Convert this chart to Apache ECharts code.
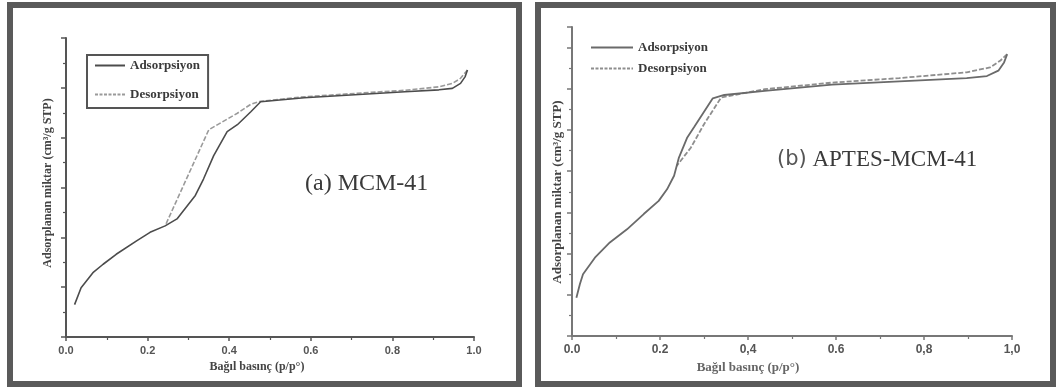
<!DOCTYPE html>
<html>
<head>
<meta charset="utf-8">
<script src="https://cdn.jsdelivr.net/npm/echarts@6/dist/echarts.min.js"></script>
<style>
  html, body { margin: 0; padding: 0; background: #fff; }
  body { width: 1056px; height: 387px; position: relative; overflow: hidden; }
  .frame { position: absolute; box-sizing: border-box; border: 6px solid #5a5a5a; background: #fff; }
  .chart { width: 100%; height: 100%; }
</style>
</head>
<body>
<div class="frame" style="left:7px;top:2px;width:515px;height:385px"><div id="chartA" class="chart"></div></div>
<div class="frame" style="left:535px;top:2px;width:521px;height:385px"><div id="chartB" class="chart"></div></div>
<script>
// Pressure tick labels (p/p°)
const pressureTicksA = ['0.0', '0.2', '0.4', '0.6', '0.8', '1.0'];
const pressureTicksB = ['0.0', '0.2', '0,4', '0.6', '0,8', '1,0'];

// (a) MCM-41 — adsorption branch
const mcmAdsP = [0.021, 0.037, 0.066, 0.091, 0.123, 0.173, 0.206, 0.243, 0.272, 0.317, 0.337, 0.362, 0.395, 0.420, 0.453, 0.477, 0.584, 0.749, 0.831, 0.914, 0.947, 0.967, 0.978, 0.984];
const mcmAdsV = [0.65, 0.99, 1.29, 1.46, 1.66, 1.93, 2.10, 2.23, 2.37, 2.84, 3.17, 3.64, 4.12, 4.26, 4.52, 4.72, 4.80, 4.88, 4.92, 4.96, 4.99, 5.09, 5.22, 5.36];
// (a) MCM-41 — desorption branch
const mcmDesP = [0.984, 0.967, 0.947, 0.914, 0.831, 0.749, 0.584, 0.477, 0.453, 0.420, 0.350, 0.243];
const mcmDesV = [5.36, 5.19, 5.09, 5.02, 4.95, 4.91, 4.82, 4.73, 4.67, 4.49, 4.16, 2.23];

// (b) APTES-MCM-41 — adsorption branch
const aptesAdsP = [0.010, 0.018, 0.025, 0.052, 0.086, 0.125, 0.163, 0.197, 0.216, 0.232, 0.243, 0.262, 0.278, 0.320, 0.346, 0.438, 0.591, 0.744, 0.897, 0.943, 0.969, 0.982, 0.989];
const aptesAdsV = [0.93, 1.26, 1.50, 1.90, 2.27, 2.59, 2.96, 3.28, 3.56, 3.89, 4.33, 4.82, 5.08, 5.77, 5.85, 5.95, 6.10, 6.18, 6.26, 6.31, 6.44, 6.64, 6.84];
// (b) APTES-MCM-41 — desorption branch
const aptesDesP = [0.989, 0.973, 0.950, 0.897, 0.744, 0.591, 0.438, 0.339, 0.300, 0.270, 0.238];
const aptesDesV = [6.84, 6.68, 6.52, 6.40, 6.26, 6.15, 5.99, 5.79, 5.14, 4.57, 4.13];

const seriesNames = ['Adsorpsiyon', 'Desorpsiyon'];
const yAxisTitle = 'Adsorplanan miktar (cm³/g STP)';
const xAxisTitle = 'Bağıl basınç (p/p°)';

const SERIF = '"Liberation Serif", "DejaVu Serif", serif';
const SANS = '"Liberation Sans", Arial, sans-serif';

function pairs(xs, ys) { return xs.map((x, i) => [x, ys[i]]); }

function solidIcon(w, h) { return 'path://M0,0H' + w + 'V' + h + 'H0Z'; }
function dashIcon(w, h, dash, gap) {
  let d = '';
  for (let x = 0; x < w; x += dash + gap) {
    const e = Math.min(w, x + dash);
    d += 'M' + x + ',0H' + e + 'V' + h + 'H' + x + 'Z';
  }
  return 'path://' + d;
}

function buildOption(p) {
  return {
    animation: false,
    grid: { left: p.grid[0], top: p.grid[1], width: p.grid[2], height: p.grid[3] },
    xAxis: {
      type: 'value', min: 0, max: 1, interval: 0.2,
      axisLine: { lineStyle: { color: p.axisColor, width: 2 } },
      axisTick: { length: 4, lineStyle: { color: p.axisColor, width: 1.5 } },
      minorTick: { show: true, splitNumber: 2, length: 3, lineStyle: { color: p.axisColor, width: 1.2 } },
      splitLine: { show: false },
      axisLabel: {
        margin: 8, fontFamily: SANS, fontWeight: 'bold', fontSize: p.tickFont, color: '#555',
        formatter: v => p.ticks[Math.round(v / 0.2)]
      }
    },
    yAxis: {
      type: 'value', min: 0, max: p.yMax, interval: 1,
      axisLine: { show: true, onZero: false, lineStyle: { color: p.axisColor, width: 2 } },
      axisTick: { show: true, length: 5, lineStyle: { color: p.axisColor, width: 1.5 } },
      minorTick: { show: true, splitNumber: 2, length: 3, lineStyle: { color: p.axisColor, width: 1.2 } },
      splitLine: { show: false },
      axisLabel: { show: false }
    },
    legend: Object.assign({
      orient: 'vertical',
      textStyle: { fontFamily: SERIF, fontWeight: 'bold', fontSize: 13, color: '#3a3a3a' },
      data: [
        { name: seriesNames[0], icon: solidIcon(p.legendItemW, 2) },
        { name: seriesNames[1], icon: dashIcon(p.legendItemW, 2, 3, 1.5) }
      ]
    }, p.legend),
    graphic: [
      { type: 'text', x: p.title.x, y: p.title.y,
        style: Object.assign({ textAlign: 'left', textVerticalAlign: 'middle', fill: '#333' }, p.title.style) },
      { type: 'text', x: p.yName[0], y: p.yName[1], rotation: Math.PI / 2,
        style: { text: yAxisTitle, textAlign: 'center', textVerticalAlign: 'middle',
                 font: 'bold ' + p.yName[2] + 'px ' + SERIF, fill: '#444' } },
      { type: 'text', x: p.xName[0], y: p.xName[1],
        style: { text: xAxisTitle, textAlign: 'center', textVerticalAlign: 'middle',
                 font: 'bold ' + p.xName[2] + 'px ' + SERIF, fill: p.xNameColor } }
    ],
    series: [
      { name: seriesNames[0], type: 'line', symbol: 'none', smooth: false, z: 3,
        color: p.adsColor, lineStyle: { color: p.adsColor, width: p.lineW },
        data: pairs(p.ads[0], p.ads[1]) },
      { name: seriesNames[1], type: 'line', symbol: 'none', smooth: false, z: 2,
        color: p.desColor, lineStyle: { color: p.desColor, width: p.lineW, type: [5, 2] },
        data: pairs(p.des[0], p.des[1]) }
    ]
  };
}

const chartA = echarts.init(document.getElementById('chartA'));
chartA.setOption(buildOption({
  grid: [53, 30, 408, 299], yMax: 6, axisColor: '#555', tickFont: 11, ticks: pressureTicksA,
  legendItemW: 30,
  legend: { left: 74, top: 47, padding: [4, 8, 7, 8], itemGap: 16, itemWidth: 30, itemHeight: 2,
            borderColor: '#555', borderWidth: 2 },
  title: { x: 292, y: 176, style: { text: '(a) MCM-41', font: '24px ' + SERIF, fill: '#3a3a3a' } },
  yName: [35, 175, 12], xName: [244, 359, 12], xNameColor: '#444',
  adsColor: '#4c4c4c', desColor: '#9a9a9a', lineW: 1.6,
  ads: [mcmAdsP, mcmAdsV], des: [mcmDesP, mcmDesV]
}));

const chartB = echarts.init(document.getElementById('chartB'));
chartB.setOption(buildOption({
  grid: [31, 19, 440, 309], yMax: 7.5, axisColor: '#777', tickFont: 12, ticks: pressureTicksB,
  legendItemW: 42,
  legend: { left: 50, top: 33, padding: 0, itemGap: 8, itemWidth: 42, itemHeight: 2 },
  title: { x: 236, y: 152, style: {
    text: '{s|(b)} APTES-MCM-41',
    font: '23px ' + SERIF, fill: '#3a3a3a',
    rich: { s: { fontFamily: '"DejaVu Sans", sans-serif', fontSize: 21, fill: '#555' } }
  } },
  yName: [17, 184, 13], xName: [207, 360, 13], xNameColor: '#666',
  adsColor: '#6a6a6a', desColor: '#8e8e8e', lineW: 1.8,
  ads: [aptesAdsP, aptesAdsV], des: [aptesDesP, aptesDesV]
}));
</script>
</body>
</html>
